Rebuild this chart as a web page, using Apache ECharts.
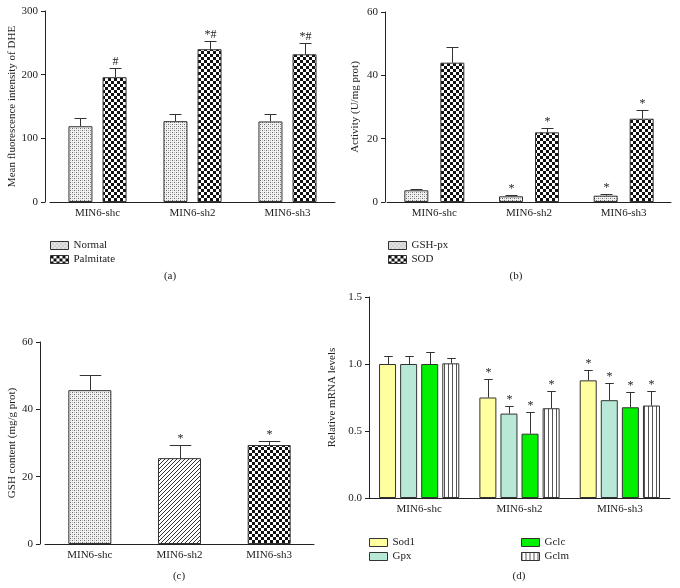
<!DOCTYPE html>
<html><head><meta charset="utf-8">
<script src="https://cdn.jsdelivr.net/npm/echarts@6/dist/echarts.min.js"></script>
<style>html,body{margin:0;padding:0;background:#fff}#c{width:680px;height:588px}</style>
</head><body><div id="c"></div>
<script>
// ---------- data ----------
const categories = ['MIN6-shc', 'MIN6-sh2', 'MIN6-sh3'];
// (a) Mean fluorescence intensity of DHE
const dheNormal = [119, 127, 126.5];
const dheNormalErr = [13, 12, 11.5];
const dheNormalMarks = ['', '', ''];
const dhePalmitate = [196, 240, 232];
const dhePalmitateErr = [14, 13.5, 17];
const dhePalmitateMarks = ['#', '*#', '*#'];
// (b) Activity (U/mg prot)
const gshpx = [3.7, 1.8, 2.0];
const gshpxErr = [0.5, 0.5, 0.4];
const gshpxMarks = ['', '*', '*'];
const sod = [44, 22, 26.3];
const sodErr = [5, 1.4, 2.6];
const sodMarks = ['', '*', '*'];
// (c) GSH content (mg/g prot)
const gsh = [45.7, 25.5, 29.4];
const gshErr = [4.6, 3.8, 1.1];
const gshMarks = ['', '*', '*'];
// (d) Relative mRNA levels
const sod1 = [1.0, 0.75, 0.878];
const sod1Err = [0.06, 0.14, 0.074];
const gpx = [1.0, 0.63, 0.73];
const gpxErr = [0.06, 0.06, 0.13];
const gclc = [1.0, 0.48, 0.677];
const gclcErr = [0.09, 0.165, 0.113];
const gclm = [1.005, 0.67, 0.69];
const gclmErr = [0.041, 0.13, 0.106];
const mrnaMarks = ['', '*', '*'];

// ---------- styles ----------
const FF = '"Liberation Serif", "DejaVu Serif", serif';
const TXT = '#222';
const LINE = '#222';
function makePattern(w, h, bg, draw) {
  const c = document.createElement('canvas'); c.width = w; c.height = h;
  const x = c.getContext('2d'); x.fillStyle = bg; x.fillRect(0, 0, w, h); draw(x);
  return { image: c, repeat: 'repeat' };
}
const dotPat = makePattern(4, 4, '#f2f2f2', x => { x.fillStyle = '#6a6a6a'; x.fillRect(0, 0, 1, 1); x.fillRect(2, 2, 1, 1); x.fillStyle = '#b8b8b8'; x.fillRect(2, 0, 1, 1); x.fillRect(0, 2, 1, 1); });
const checkPat = makePattern(6, 6, '#fff', x => { x.fillStyle = '#111'; x.fillRect(0, 0, 3, 3); x.fillRect(3, 3, 3, 3); });
const hatchPat = makePattern(4, 4, '#fff', x => { x.fillStyle = '#333'; x.fillRect(3, 0, 1, 1); x.fillRect(2, 1, 1, 1); x.fillRect(1, 2, 1, 1); x.fillRect(0, 3, 1, 1); });
const stripePat = makePattern(4, 4, '#fff', x => { x.fillStyle = '#555'; x.fillRect(0, 0, 1, 4); });
const gshPatterns = [dotPat, hatchPat, checkPat];

function xAx(gi) {
  return { type: 'category', gridIndex: gi, data: categories, boundaryGap: true,
    axisLine: { lineStyle: { color: LINE, width: 1 } },
    axisTick: { alignWithLabel: true, length: 4, lineStyle: { color: LINE } },
    axisLabel: { color: TXT, fontFamily: FF, fontSize: 11, margin: 6 } };
}
function yAx(gi, max, interval, name, nameGap, offset, dec) {
  return { type: 'value', gridIndex: gi, min: 0, max, interval, offset,
    name, nameLocation: 'middle', nameGap, nameRotate: 90,
    nameTextStyle: { color: TXT, fontFamily: FF, fontSize: 11 },
    splitLine: { show: false },
    axisLine: { show: true, lineStyle: { color: LINE, width: 1 } },
    axisTick: { show: true, length: 4, lineStyle: { color: LINE } },
    axisLabel: { color: TXT, fontFamily: FF, fontSize: 11, margin: 7,
      formatter: v => dec ? v.toFixed(dec) : String(v) } };
}
function barS(gi, name, data, color, bw, gap) {
  return { type: 'bar', name, xAxisIndex: gi, yAxisIndex: gi, data, barWidth: bw, barGap: gap,
    itemStyle: { color, borderColor: '#333', borderWidth: 1 }, emphasis: { disabled: true } };
}
function errS(gi, vals, errs, marks, idx, n, bw, gap) {
  return { type: 'custom', xAxisIndex: gi, yAxisIndex: gi, z: 3, silent: true,
    data: vals.map((v, i) => [i, v, errs[i]]),
    renderItem(params, api) {
      const i = api.value(0), v = api.value(1), e = api.value(2);
      const p0 = api.coord([i, v]), p1 = api.coord([i, v + e]);
      const total = n * bw + (n - 1) * gap * bw;
      const cx = Math.round(p0[0] - total / 2 + idx * bw * (1 + gap) + bw / 2) + 0.5;
      const cap = bw / 4;
      const y1 = Math.round(p1[1]) + 0.5;
      const ch = [
        { type: 'line', shape: { x1: cx, y1: p0[1], x2: cx, y2: y1 }, style: { stroke: '#333', lineWidth: 1 } },
        { type: 'line', shape: { x1: cx - cap, y1: y1, x2: cx + cap, y2: y1 }, style: { stroke: '#333', lineWidth: 1 } }
      ];
      const m = marks[params.dataIndex];
      if (m) ch.push({ type: 'text', style: { text: m, x: cx, y: y1 - 1, align: 'center', verticalAlign: 'bottom', fill: TXT, font: '12px ' + FF } });
      return { type: 'group', children: ch };
    } };
}
function leg(names, left, top) {
  return { data: names, left, top, orient: 'vertical', icon: 'rect', itemWidth: 18, itemHeight: 8, itemGap: 3,
    selectedMode: false, padding: 0, itemStyle: { borderColor: '#333', borderWidth: 1 },
    textStyle: { color: TXT, fontFamily: FF, fontSize: 11 } };
}
function cap(t, x, y) {
  return { type: 'text', x, y, style: { text: t, align: 'center', verticalAlign: 'middle', fill: TXT, font: '11px ' + FF } };
}

const A = { bw: 24, gap: 0.42 }, B = { bw: 24, gap: 0.5 }, C = { bw: 43 }, D = { bw: 17, gap: 0.24 };

const option = {
  animation: false,
  backgroundColor: '#fff',
  grid: [
    { left: 50, top: 11, width: 285, height: 191, outerBoundsMode: 'none', containLabel: false },
    { left: 387, top: 12, width: 284, height: 190, outerBoundsMode: 'none', containLabel: false },
    { left: 45, top: 342, width: 269, height: 202, outerBoundsMode: 'none', containLabel: false },
    { left: 369, top: 297, width: 301, height: 201, outerBoundsMode: 'none', containLabel: false }
  ],
  xAxis: [xAx(0), xAx(1), xAx(2), xAx(3)],
  yAxis: [
    yAx(0, 300, 100, 'Mean fluorescence intensity of DHE', 25, 5, 0),
    yAx(1, 60, 20, 'Activity (U/mg prot)', 24, 2, 0),
    yAx(2, 60, 20, 'GSH content (mg/g prot)', 21, 5, 0),
    yAx(3, 1.5, 0.5, 'Relative mRNA levels', 31, 0, 1)
  ],
  legend: [
    leg(['Normal', 'Palmitate'], 50, 240),
    leg(['GSH-px', 'SOD'], 388, 240),
    leg(['Sod1', 'Gpx'], 369, 537),
    leg(['Gclc', 'Gclm'], 521, 537)
  ],
  series: [
    barS(0, 'Normal', dheNormal, dotPat, A.bw, '42%'),
    barS(0, 'Palmitate', dhePalmitate, checkPat, A.bw, '42%'),
    errS(0, dheNormal, dheNormalErr, dheNormalMarks, 0, 2, A.bw, A.gap),
    errS(0, dhePalmitate, dhePalmitateErr, dhePalmitateMarks, 1, 2, A.bw, A.gap),

    barS(1, 'GSH-px', gshpx, dotPat, B.bw, '50%'),
    barS(1, 'SOD', sod, checkPat, B.bw, '50%'),
    errS(1, gshpx, gshpxErr, gshpxMarks, 0, 2, B.bw, B.gap),
    errS(1, sod, sodErr, sodMarks, 1, 2, B.bw, B.gap),

    barS(2, 'GSH', gsh.map((v, i) => ({ value: v, itemStyle: { color: gshPatterns[i] } })), dotPat, C.bw, '0%'),
    errS(2, gsh, gshErr, gshMarks, 0, 1, C.bw, 0),

    barS(3, 'Sod1', sod1, '#ffffa0', D.bw, '24%'),
    barS(3, 'Gpx', gpx, '#b8e8d6', D.bw, '24%'),
    barS(3, 'Gclc', gclc, '#00f000', D.bw, '24%'),
    barS(3, 'Gclm', gclm, stripePat, D.bw, '24%'),
    errS(3, sod1, sod1Err, mrnaMarks, 0, 4, D.bw, D.gap),
    errS(3, gpx, gpxErr, mrnaMarks, 1, 4, D.bw, D.gap),
    errS(3, gclc, gclcErr, mrnaMarks, 2, 4, D.bw, D.gap),
    errS(3, gclm, gclmErr, mrnaMarks, 3, 4, D.bw, D.gap)
  ],
  graphic: [cap('(a)', 170, 276), cap('(b)', 516, 276), cap('(c)', 179, 576), cap('(d)', 519, 576)]
};
const chart = echarts.init(document.getElementById('c'), null, { renderer: 'canvas' });
chart.setOption(option);
</script></body></html>
